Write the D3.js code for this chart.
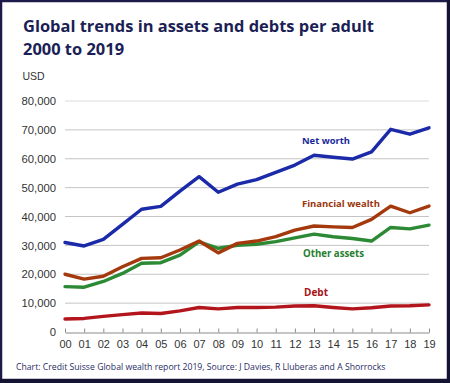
<!DOCTYPE html>
<html><head><meta charset="utf-8">
<script src="https://cdn.jsdelivr.net/npm/d3@7"></script>
<style>body{margin:0;background:#fff}svg{display:block}</style>
</head><body>
<svg id="c" width="450" height="383"></svg>
<script>
const years = ["00","01","02","03","04","05","06","07","08","09","10","11","12","13","14","15","16","17","18","19"];
const netWorth = [31000,29800,32100,37300,42500,43500,48800,53800,48400,51200,52800,55300,57800,61200,60500,59900,62400,70200,68500,70700];
const financialWealth = [20000,18300,19300,22600,25500,25700,28400,31500,27400,30700,31500,33000,35300,36700,36400,36200,39000,43600,41300,43600];
const otherAssets = [15700,15500,17500,20300,23800,24000,26600,31200,29000,30000,30400,31300,32600,33900,33000,32400,31500,36200,35700,37000];
const debt = [4500,4700,5400,6000,6600,6400,7300,8500,8000,8500,8500,8600,9000,9100,8500,8000,8400,9000,9100,9400];
const yTicks = [0,10000,20000,30000,40000,50000,60000,70000,80000];
const seriesNames = ["Net worth","Financial wealth","Other assets","Debt"];
const seriesColors = ["#1b2aa8","#a3390c","#2b8a33","#b3151d"];

const svg = d3.select("#c");
const x = d3.scalePoint().domain(years).range([65,429]);
const y = d3.scaleLinear().domain([0,80000]).range([332,101]);

// border
svg.append("rect").attr("x",1).attr("y",1).attr("width",447).attr("height",379)
  .attr("fill","#fff").attr("stroke","#1c1a48").attr("stroke-width",2.5);
svg.append("rect").attr("x",447).attr("y",0).attr("width",3).attr("height",383).attr("fill","#141432");
svg.append("rect").attr("x",0).attr("y",379).attr("width",450).attr("height",4).attr("fill","#141432");

function fit(sel, w){ const n=sel.node(); const l=n.getComputedTextLength(); const fs=parseFloat(sel.attr("font-size")); sel.attr("font-size", fs*w/l); }

const tFont = "'Open Sans', sans-serif";
const t1 = svg.append("text").attr("x",23).attr("y",32).attr("font-family",tFont).attr("font-weight",700)
  .attr("font-size",17).attr("fill","#1c1f55").text("Global trends in assets and debts per adult");
fit(t1,351);
const t2 = svg.append("text").attr("x",23).attr("y",54.5).attr("font-family",tFont).attr("font-weight",700)
  .attr("font-size",t1.attr("font-size")).attr("fill","#1c1f55").text("2000 to 2019");

svg.append("text").attr("x",22.5).attr("y",80).attr("font-family","'Liberation Sans', Arial, sans-serif")
  .attr("font-size",10.5).attr("fill","#333").text("USD");

// y grid + labels
const gy = svg.append("g").attr("transform","translate(56,0)")
  .call(d3.axisLeft(y).tickValues(yTicks).tickFormat(d3.format(",")).tickSize(0).tickPadding(0));
gy.select(".domain").remove();
gy.selectAll("text").attr("font-family","'Liberation Sans', Arial, sans-serif").attr("font-size",11.3).attr("fill","#333");
svg.append("g").selectAll("line").data(yTicks.filter(d=>d>0)).join("line")
  .attr("x1",65).attr("x2",429).attr("y1",d=>y(d)).attr("y2",d=>y(d))
  .attr("stroke",d=>d===80000?"#dcdcdc":"#c4c4c4").attr("stroke-width",1);

// x axis
const gx = svg.append("g").attr("transform","translate(0,332.5)")
  .call(d3.axisBottom(x).tickSizeInner(-4).tickSizeOuter(0).tickPadding(8));
gx.select(".domain").attr("stroke","#8a8a8a");
gx.selectAll(".tick line").attr("stroke","#8a8a8a");
gx.selectAll("text").attr("font-family","'Liberation Sans', Arial, sans-serif").attr("font-size",11).attr("fill","#333").attr("dy","0.71em");

// lines
const line = d3.line().x((d,i)=>x(years[i])).y(d=>y(d));
const allSeries = [debt, otherAssets, financialWealth, netWorth];
const allColors = [seriesColors[3],seriesColors[2],seriesColors[1],seriesColors[0]];
svg.append("g").selectAll("path").data(allSeries).join("path")
  .attr("d",line).attr("fill","none").attr("stroke",(d,i)=>allColors[i])
  .attr("stroke-width",3.4).attr("stroke-linejoin","round").attr("stroke-linecap","round");

// series labels
const labelPos = [[302,144.3,48],[302,207.3,78],[303,256.7,61],[304,296,24]];
seriesNames.forEach((n,i)=>{
  const t = svg.append("text").attr("x",labelPos[i][0]).attr("y",labelPos[i][1])
    .attr("font-family",tFont).attr("font-weight",700).attr("font-size",11)
    .attr("fill",d3.color(seriesColors[i]).darker(0.2)).text(n);
  fit(t,labelPos[i][2]);
});

const f = svg.append("text").attr("x",16).attr("y",370).attr("font-family",tFont).attr("font-size",9.5)
  .attr("fill","#2a2d66").text("Chart: Credit Suisse Global wealth report 2019, Source: J Davies, R Lluberas and A Shorrocks");
fit(f,370);
</script>
</body></html>
